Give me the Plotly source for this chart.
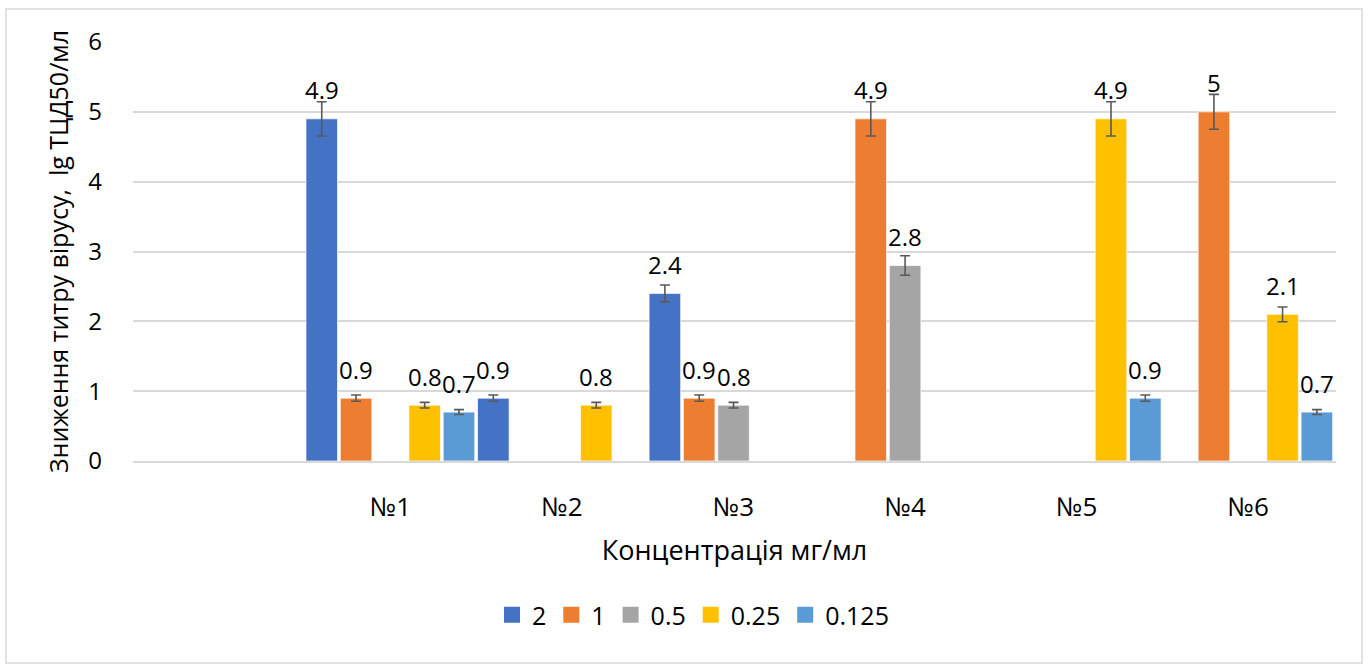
import plotly.graph_objects as go

categories = [" ", "№1", "№2", "№3", "№4", "№5", "№6"]
series_names = ["2", "1", "0.5", "0.25", "0.125"]
s_2 = [None, 4.9, 0.9, 2.4, None, None, None]
s_1 = [None, 0.9, None, 0.9, 4.9, None, 5.0]
s_05 = [None, None, None, 0.8, 2.8, None, None]
s_025 = [None, 0.8, 0.8, None, None, 4.9, 2.1]
s_0125 = [None, 0.7, None, None, None, 0.9, 0.7]
all_series = [s_2, s_1, s_05, s_025, s_0125]
colors = ["#4472C4", "#ED7D31", "#A5A5A5", "#FFC000", "#5B9BD5"]
err_percent = 5

FONT = "Open Sans"
W, H = 1368, 664
ML, MR, MT, MB = 133, 32, 42, 203
plot_w = W - ML - MR
plot_h = H - MT - MB
slot_px = plot_w / len(categories) / len(series_names)

fig = go.Figure()
annotations = []
for i, (name, vals, col) in enumerate(zip(series_names, all_series, colors)):
    fig.add_trace(go.Bar(
        name=name, x=categories, y=vals, legendgroup=name, showlegend=False,
        marker=dict(color=col, line=dict(color="white", width=0.7)),
        error_y=dict(type="percent", value=err_percent, color="#595959", thickness=1.6, width=5),
        hoverinfo="x+y+name",
    ))
    for c, v in zip(categories, vals):
        if v is None:
            continue
        annotations.append(dict(
            x=c, y=v, xref="x", yref="y", text=f"{v:g}", showarrow=False,
            xshift=(i - (len(series_names) - 1) / 2) * slot_px, yshift=29,
            yanchor="middle", xanchor="center",
            font=dict(size=24, color="#000000", family=FONT),
        ))

# legend entries with larger square swatches
for name, col in zip(series_names, colors):
    fig.add_trace(go.Scatter(
        name=name, x=[None], y=[None], mode="markers", legendgroup=name,
        marker=dict(symbol="square", size=18, color=col), hoverinfo="skip",
    ))

fig.update_layout(
    width=W, height=H,
    paper_bgcolor="white", plot_bgcolor="white",
    margin=dict(l=ML, r=MR, t=MT, b=MB, autoexpand=False),
    barmode="group", bargap=0, bargroupgap=0.08,
    font=dict(family=FONT, size=24, color="#000000"),
    legend=dict(orientation="h", x=(693 - ML) / plot_w, xanchor="center",
                y=(H - MB - 615) / plot_h, yanchor="middle",
                font=dict(size=25, family=FONT), itemwidth=30, traceorder="normal"),
    xaxis=dict(type="category", showgrid=False, showline=True, linecolor="#D9D9D9", linewidth=1.5,
               ticks="", tickfont=dict(size=26, family=FONT), ticklabelstandoff=22,
               title=dict(text="Концентрація мг/мл", font=dict(size=27, family=FONT), standoff=18)),
    yaxis=dict(range=[0, 6], dtick=1, showgrid=True, gridcolor="#D9D9D9", gridwidth=1.5,
               zeroline=False, showline=False, ticks="", tickfont=dict(size=24, family=FONT),
               ticklabelstandoff=30,
               title=dict(text="Зниження титру вірусу,  lg ТЦД50/мл", font=dict(size=25, family=FONT), standoff=12)),
    annotations=annotations,
    shapes=[dict(type="rect", xref="paper", yref="paper",
                 x0=(6 - ML) / plot_w, x1=(1362 - ML) / plot_w,
                 y0=(H - MB - 663) / plot_h, y1=(H - MB - 9) / plot_h,
                 line=dict(color="#D9D9D9", width=1.5))],
)

fig.write_html("out.html", config={"displayModeBar": False},
               post_script="document.body.style.margin='0';document.body.style.overflow='hidden';")
